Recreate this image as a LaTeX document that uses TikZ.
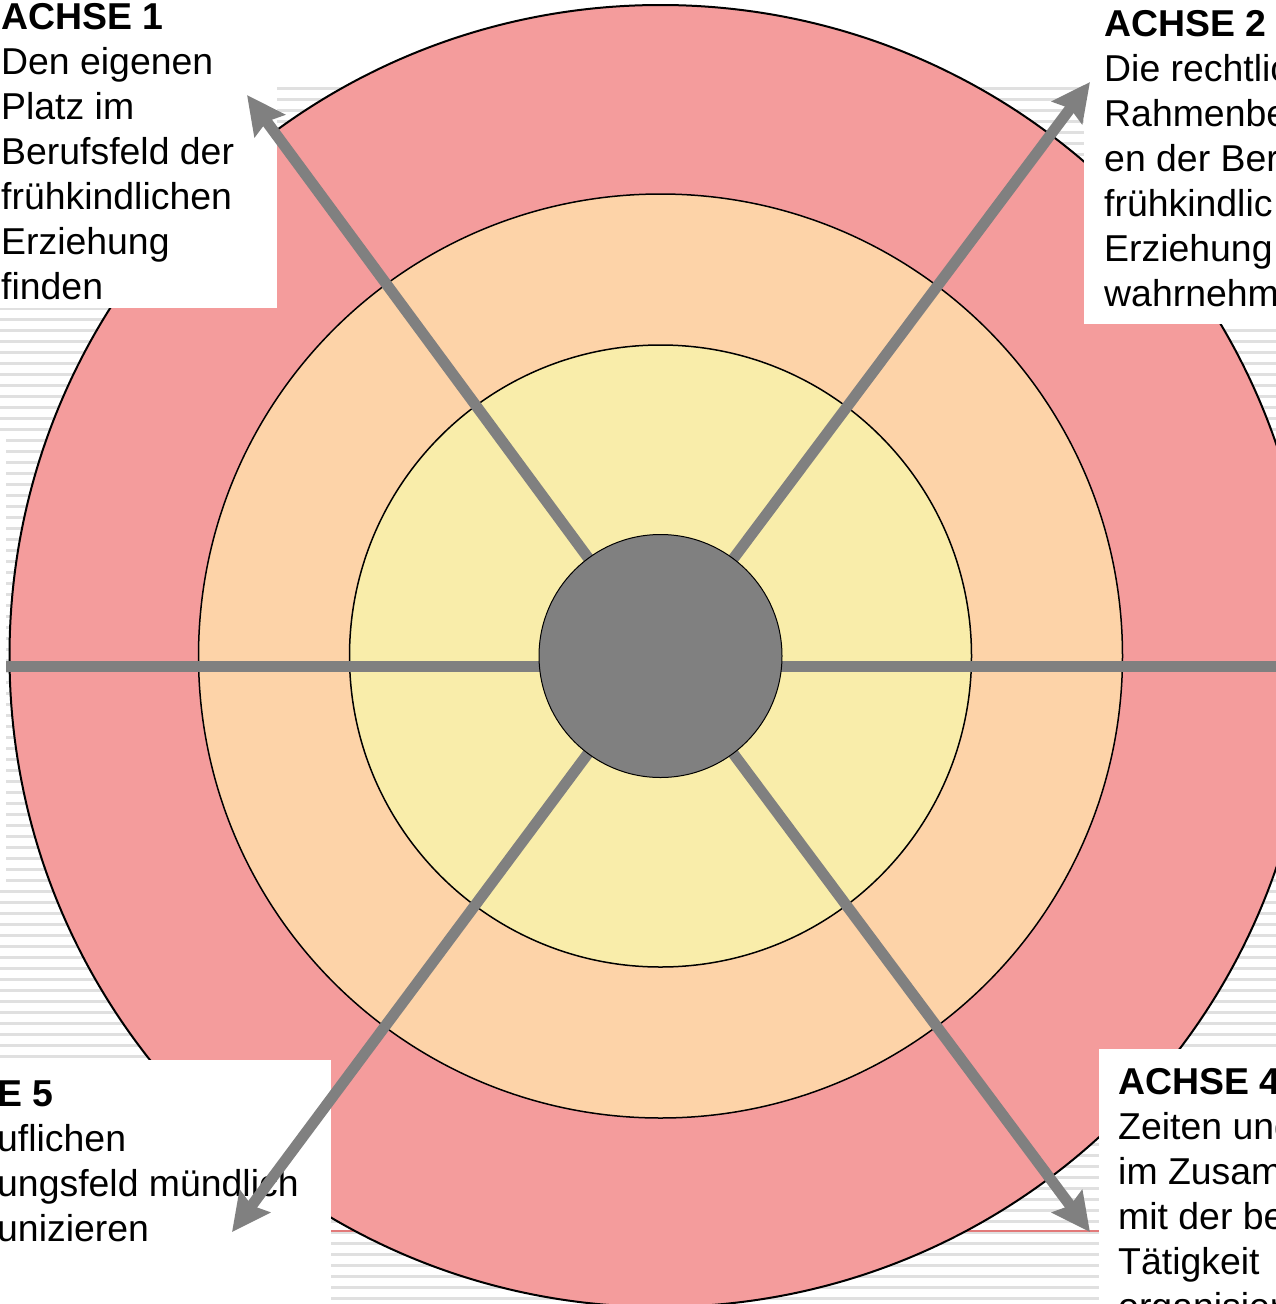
\documentclass[tikz,border=0pt]{standalone}
\usepackage{fontspec}
\setmainfont{Liberation Sans}
\usetikzlibrary{arrows.meta}
\definecolor{ringred}{HTML}{F49C9C}
\definecolor{ringorange}{HTML}{FDD3A8}
\definecolor{ringyellow}{HTML}{F9EDAA}
\definecolor{coregray}{HTML}{808080}
\definecolor{stripegray}{HTML}{E0E0E0}
\definecolor{thinred}{HTML}{E27A7A}
\begin{document}
\begin{tikzpicture}[x=1pt,y=-1pt,
  ring/.style={circle, draw=black, inner sep=0pt, line width=1.5pt},
  axisline/.style={draw=coregray, line width=11pt},
  axisarrow/.style={axisline, -{Stealth[length=38pt,width=37pt,inset=5pt]}},
  labelbox/.style={fill=white, draw=none, inner sep=0pt, anchor=north west},
  achsetext/.style={anchor=base west, inner sep=0pt, font=\fontsize{37.4}{45}\selectfont},
  stripeline/.style={draw=stripegray, line width=3pt}]
\useasboundingbox (0,0) rectangle (1276,1304);
\clip (0,0) rectangle (1276,1304);
\fill[white] (0,0) rectangle (1276,1304);
\foreach \yy in {88,99,...,1304} \draw[stripeline] (0,\yy) -- (1276,\yy);
\fill[white] (0,437) rectangle (6,885);
\draw[thinred, line width=2pt] (300,1231) -- (1099,1231);

\coordinate (c) at (660.5,656);
\node[ring, fill=ringred, minimum size=1302pt, line width=2pt] (outer) at (c) {};
\node[ring, fill=ringorange, minimum size=924pt] (mid) at (c) {};
\node[ring, fill=ringyellow, minimum size=622pt] (inner) at (c) {};

\coordinate (hl) at (6,666.5);
\coordinate (hr) at (1290,666.5);
\draw[axisline] (hl) -- (hr);

\node[labelbox, minimum width=277pt, minimum height=308pt] (box1) at (0,0) {};
\node[labelbox, minimum width=192pt, minimum height=324pt] (box2) at (1084,0) {};
\node[labelbox, minimum width=331pt, minimum height=244pt] (box5) at (0,1060) {};
\node[labelbox, minimum width=177pt, minimum height=255pt] (box4) at (1099,1049) {};

\node[achsetext] (a1) at (1,29) {\begin{tabular}[t]{@{}l@{}}\textbf{ACHSE 1}\\Den eigenen\\Platz im\\Berufsfeld der\\frühkindlichen\\Erziehung\\finden\end{tabular}};
\node[achsetext] (a2) at (1104,36) {\begin{tabular}[t]{@{}l@{}}\textbf{ACHSE 2}\\Die rechtlic\\Rahmenbe\\en der Ber\\frühkindlic\\Erziehung\\wahrnehm\end{tabular}};
\node[achsetext] (a5) at (-3,1106) {\begin{tabular}[t]{@{}l@{}}\textbf{E 5}\\uflichen\\ungsfeld mündlich\\unizieren\end{tabular}};
\node[achsetext] (a4) at (1118,1094) {\begin{tabular}[t]{@{}l@{}}\textbf{ACHSE 4}\\Zeiten und\\im Zusam\\mit der be\\Tätigkeit\\organisier\end{tabular}};

\coordinate (t1) at (247,95);
\coordinate (t2) at (1090,82);
\coordinate (t5) at (232,1232);
\coordinate (t4) at (1090,1232);
\draw[axisarrow] (c) -- (t1);
\draw[axisarrow] (c) -- (t2);
\draw[axisarrow] (c) -- (t5);
\draw[axisarrow] (c) -- (t4);

\node[ring, fill=coregray, minimum size=243pt, line width=1pt] (core) at (c) {};
\end{tikzpicture}
\end{document}
